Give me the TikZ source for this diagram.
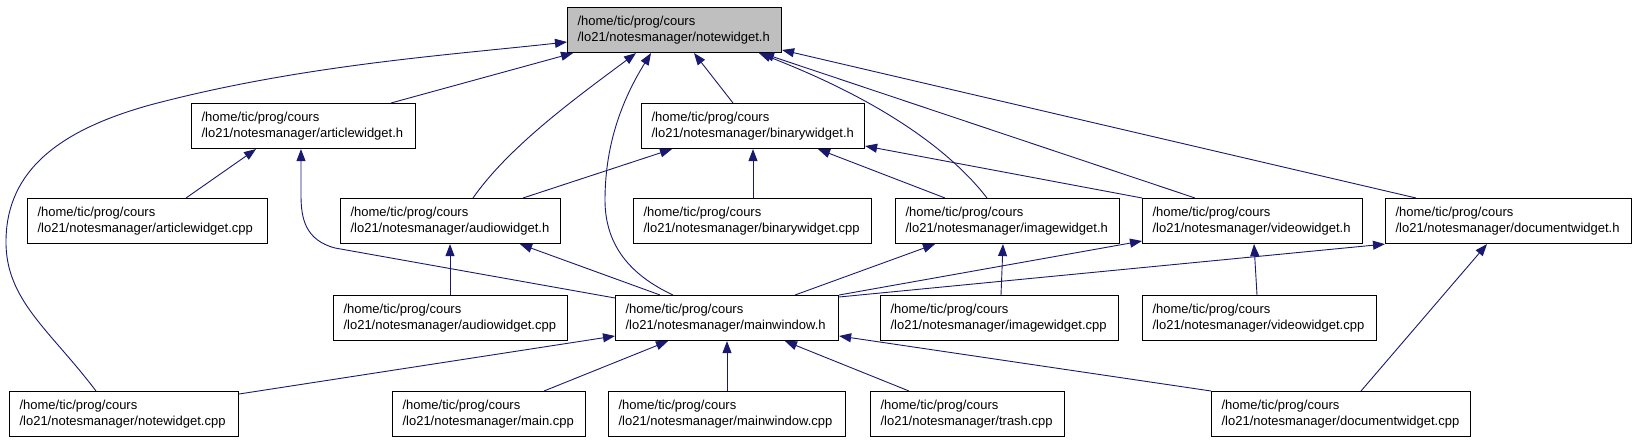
\documentclass[tikz,border=0pt]{standalone}
\usepackage{fontspec}
\setmainfont{Liberation Sans}
\usetikzlibrary{arrows.meta}
\definecolor{navy}{RGB}{25,25,112}
\definecolor{hdrgray}{RGB}{191,191,191}
\tikzset{
  file/.style={draw=black, line width=1.1pt, rectangle, inner xsep=10pt, inner ysep=0pt,
    minimum height=45pt, align=left, anchor=north west,
    font=\fontsize{13}{16.7}\selectfont},
  dep/.style={draw=navy, line width=0.9pt, -{Triangle[length=12pt,width=9pt]}}
}
\begin{document}
\begin{tikzpicture}[x=1pt,y=-1pt]
\fill[white] (0,0) rectangle (1637,443);
\useasboundingbox (0,0) rectangle (1637,443);
% row 0
\node[file, fill=hdrgray, text width=194pt] (nh) at (567,7) {/home/tic/prog/cours\\/lo21/notesmanager/notewidget.h};
% row 1
\node[file, text width=204pt] (arth) at (191,103) {/home/tic/prog/cours\\/lo21/notesmanager/articlewidget.h};
\node[file, text width=203pt] (binh) at (641,103) {/home/tic/prog/cours\\/lo21/notesmanager/binarywidget.h};
% row 2
\node[file, text width=220pt] (artcpp) at (27,198) {/home/tic/prog/cours\\/lo21/notesmanager/articlewidget.cpp};
\node[file, text width=200pt] (audh) at (340,198) {/home/tic/prog/cours\\/lo21/notesmanager/audiowidget.h};
\node[file, text width=218pt] (bincpp) at (633,198) {/home/tic/prog/cours\\/lo21/notesmanager/binarywidget.cpp};
\node[file, text width=204pt] (imgh) at (895,198) {/home/tic/prog/cours\\/lo21/notesmanager/imagewidget.h};
\node[file, text width=200pt] (vidh) at (1142,198) {/home/tic/prog/cours\\/lo21/notesmanager/videowidget.h};
\node[file, text width=226pt] (doch) at (1385,198) {/home/tic/prog/cours\\/lo21/notesmanager/documentwidget.h};
% row 3
\node[file, text width=214pt] (audcpp) at (333,295) {/home/tic/prog/cours\\/lo21/notesmanager/audiowidget.cpp};
\node[file, text width=203pt] (mwh) at (615,295) {/home/tic/prog/cours\\/lo21/notesmanager/mainwindow.h};
\node[file, text width=218pt] (imgcpp) at (880,295) {/home/tic/prog/cours\\/lo21/notesmanager/imagewidget.cpp};
\node[file, text width=214pt] (vidcpp) at (1142,295) {/home/tic/prog/cours\\/lo21/notesmanager/videowidget.cpp};
% row 4
\node[file, text width=209pt] (ncpp) at (9,391) {/home/tic/prog/cours\\/lo21/notesmanager/notewidget.cpp};
\node[file, text width=173pt] (maincpp) at (392,391) {/home/tic/prog/cours\\/lo21/notesmanager/main.cpp};
\node[file, text width=217pt] (mwcpp) at (608,391) {/home/tic/prog/cours\\/lo21/notesmanager/mainwindow.cpp};
\node[file, text width=174pt] (trash) at (870,391) {/home/tic/prog/cours\\/lo21/notesmanager/trash.cpp};
\node[file, text width=239pt] (doccpp) at (1211,391) {/home/tic/prog/cours\\/lo21/notesmanager/documentwidget.cpp};

% edges into notewidget.h
\draw[dep] (ncpp.north -| 96,0) .. controls (50,330) and (5,300) .. (6,240)
   .. controls (7,170) and (60,130) .. (150,105)
   .. controls (300,65) and (450,55) .. (nh.west |- 0,42);
\draw[dep] (arth.north -| 391,0) -- (nh.south -| 573,0);
\draw[dep] (audh.north -| 473,0) .. controls (510,145) and (580,95) .. (nh.south -| 636,0);
\draw[dep] (mwh.north -| 673,0) .. controls (630,275) and (605,245) .. (605,200)
   .. controls (605,140) and (625,95) .. (nh.south -| 651,0);
\draw[dep] (binh.north -| 733,0) -- (nh.south -| 694,0);
\draw[dep] (imgh.north -| 987,0) .. controls (950,150) and (880,100) .. (nh.south -| 759,0);
\draw[dep] (vidh.north -| 1195,0) -- (nh.south -| 762,0);
\draw[dep] (doch.north -| 1416,0) -- (nh.east |- 0,50);

% edges into articlewidget.h
\draw[dep] (artcpp.north -| 186,0) -- (arth.south -| 256,0);
\draw[dep] (mwh.west |- 0,298) -- (335,248) .. controls (305,240) and (301,218) .. (301,195)
   -- (arth.south -| 301,0);

% edges into binarywidget.h
\draw[dep] (audh.north -| 523,0) -- (binh.south -| 672,0);
\draw[dep] (bincpp.north -| 753,0) -- (binh.south -| 753,0);
\draw[dep] (imgh.north -| 945,0) -- (binh.south -| 818,0);
\draw[dep] (vidh.north west) -- (binh.east |- 0,146);

% edges into audiowidget.h
\draw[dep] (audcpp.north -| 450,0) -- (audh.south -| 450,0);
\draw[dep] (mwh.north -| 660,0) -- (audh.south -| 520,0);

% edges into imagewidget.h
\draw[dep] (mwh.north -| 795,0) -- (imgh.south -| 935,0);
\draw[dep] (imgcpp.north -| 1001,0) -- (imgh.south -| 1003,0);

% edges into videowidget.h
\draw[dep] (mwh.north east) -- (vidh.west |- 0,241);
\draw[dep] (vidcpp.north -| 1257,0) -- (vidh.south -| 1254,0);

% edges into documentwidget.h
\draw[dep] (mwh.east |- 0,297) -- (doch.south west);
\draw[dep] (doccpp.north -| 1361,0) -- (doch.south -| 1487,0);

% edges into mainwindow.h
\draw[dep] (ncpp.east |- 0,394) -- (mwh.west |- 0,336);
\draw[dep] (maincpp.north -| 544,0) -- (mwh.south -| 668,0);
\draw[dep] (mwcpp.north -| 727,0) -- (mwh.south -| 727,0);
\draw[dep] (trash.north -| 909,0) -- (mwh.south -| 785,0);
\draw[dep] (doccpp.north west) -- (mwh.east |- 0,336);
\end{tikzpicture}
\end{document}
